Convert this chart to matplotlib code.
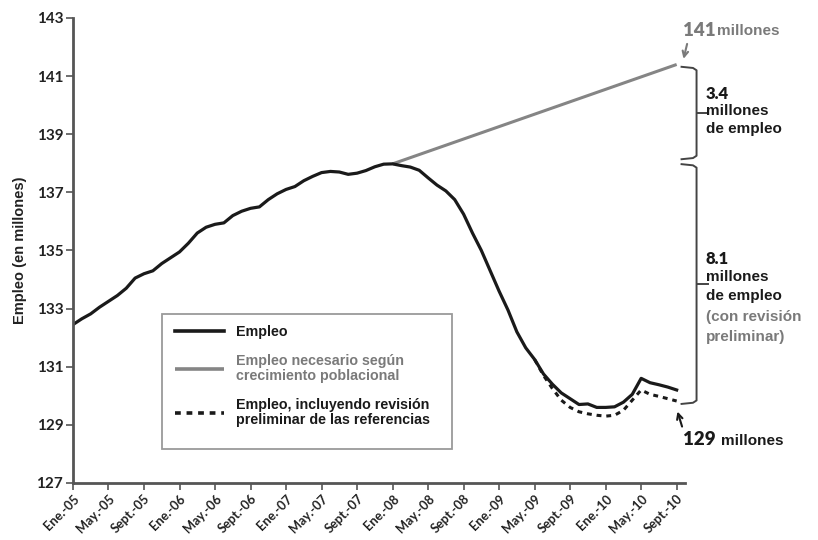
import numpy as np
import matplotlib.pyplot as plt
from matplotlib.patches import Rectangle
from matplotlib.transforms import ScaledTranslation

# monthly payroll employment, Jan-2005 .. Sept-2010 (millions)
empleo = [132.45, 132.65, 132.82, 133.05, 133.25, 133.45, 133.7, 134.05, 134.2, 134.3,
          134.55, 134.75, 134.95, 135.25, 135.6, 135.8, 135.9, 135.95, 136.2, 136.35,
          136.45, 136.5, 136.75, 136.95, 137.1, 137.2, 137.4, 137.55, 137.68, 137.72,
          137.7, 137.62, 137.66, 137.75, 137.88, 137.97, 137.98, 137.92, 137.87, 137.76,
          137.5, 137.25, 137.05, 136.75, 136.25, 135.6, 135.0, 134.3, 133.6, 132.95,
          132.2, 131.65, 131.25, 130.75, 130.4, 130.1, 129.9, 129.7, 129.72, 129.6,
          129.6, 129.62, 129.78, 130.05, 130.6, 130.45, 130.38, 130.3, 130.2]
# with preliminary benchmark revision, May-2009 .. Sept-2010
revision_start = 52
empleo_revisado = [131.25, 130.7, 130.25, 129.85, 129.6, 129.45, 129.38, 129.33, 129.3,
                   129.33, 129.5, 129.85, 130.2, 130.05, 129.98, 129.9, 129.82]
# needed employment given population growth: Ene-08 -> Sept-10
necesario_x = [36, 68]
necesario = [137.98, 141.4]

tick_pos = list(range(0, 69, 4))
tick_labels = ['Ene.-05', 'May.-05', 'Sept.-05', 'Ene.-06', 'May.-06', 'Sept.-06',
               'Ene.-07', 'May.-07', 'Sept.-07', 'Ene.-08', 'May.-08', 'Sept.-08',
               'Ene.-09', 'May.-09', 'Sept.-09', 'Ene.-10', 'May.-10', 'Sept.-10']
y_ticks = [127, 129, 131, 133, 135, 137, 139, 141, 143]

BLACK = '#1a1a1a'
GRAY = '#858585'
TXT_GRAY = '#7a7a7a'
AX = '#555555'
num_font = 'Lato'
txt_font = 'Liberation Sans'

fig = plt.figure(figsize=(8.18, 5.4), dpi=100)
ax = fig.add_axes([0.0892, 0.1056, 0.748, 0.8611])

months = np.arange(len(empleo))
rev_x = np.arange(revision_start, revision_start + len(empleo_revisado))

l2, = ax.plot(necesario_x, necesario, color=GRAY, lw=2.2, solid_capstyle='butt')
l3, = ax.plot(rev_x, empleo_revisado, color=BLACK, lw=2.2, linestyle=(0, (1.6, 1.6)))
l1, = ax.plot(months, empleo, color=BLACK, lw=2.3)

ax.set_xlim(0, 68.92)
ax.set_ylim(127, 143)
ax.set_xticks(tick_pos)
ax.set_xticklabels(tick_labels, rotation=45, ha='right', va='top', rotation_mode='anchor',
                   fontfamily=num_font, fontweight='bold', fontsize=9.2, color='#222222')
shift = ScaledTranslation(6 / 72, 0, fig.dpi_scale_trans)
for lbl in ax.get_xticklabels():
    lbl.set_transform(lbl.get_transform() + shift)
ax.set_yticks(y_ticks)
ax.set_yticklabels([str(v) for v in y_ticks], fontfamily=num_font, fontweight='bold',
                   fontsize=11, color='#222222')
ax.tick_params(axis='both', direction='out', length=5, width=1.2, color=AX)
ax.tick_params(axis='x', pad=2)
ax.tick_params(axis='y', pad=2)
for s in ['top', 'right']:
    ax.spines[s].set_visible(False)
for s in ['left', 'bottom']:
    ax.spines[s].set_color(AX)
    ax.spines[s].set_linewidth(2)
ax.set_ylabel('Empleo (en millones)', fontfamily=txt_font, fontweight='bold', fontsize=10.5,
              color='#222222', labelpad=7)

# legend box
ax.add_patch(Rectangle((0.1977, 0.1685), 0.3545, 0.25, transform=fig.transFigure,
                       facecolor='white', edgecolor='#9a9a9a', lw=1.3, zorder=3,
                       clip_on=False))
leg = ax.legend([l1, l2, l3],
                ['Empleo', 'Empleo necesario según\ncrecimiento poblacional',
                 'Empleo, incluyendo revisión\npreliminar de las referencias'],
                loc='upper left', bbox_to_anchor=(0.2139, 0.399), bbox_transform=fig.transFigure,
                frameon=False, borderpad=0, borderaxespad=0, handlelength=3.4,
                handletextpad=0.9, labelspacing=1.08,
                prop={'family': txt_font, 'weight': 'bold', 'size': 10.3})
leg.set_zorder(5)
for t, c in zip(leg.get_texts(), [BLACK, TXT_GRAY, BLACK]):
    t.set_color(c)
    t.set_linespacing(1.05)
for h in leg.get_lines():
    h.set_linewidth(2.6)


# braces on the right
def brace(y_top, y_bot):
    xv, xl, xr = 70.24, 68.55, 71.5
    ax.plot([xl, xv - 0.4, xv, xv, xv - 0.4, xl],
            [y_top, y_top - 0.04, y_top - 0.12, y_bot + 0.12, y_bot + 0.04, y_bot],
            color='#444444', lw=1.4, clip_on=False)
    ym = (y_top + y_bot) / 2
    ax.plot([xv, xr], [ym, ym], color='#444444', lw=1.4, clip_on=False)


brace(141.32, 138.14)
brace(137.97, 129.72)

tk = dict(fontfamily=txt_font, fontweight='bold', fontsize=11, ha='left', va='center',
          clip_on=False)
big = dict(fontfamily=num_font, fontweight='heavy', fontsize=12, ha='left', va='center',
           clip_on=False)
ax.text(71.3, 140.38, '3.4', color=BLACK, **big)
ax.text(71.3, 139.8, 'millones', color=BLACK, **tk)
ax.text(71.3, 139.18, 'de empleo', color=BLACK, **tk)
ax.text(71.3, 134.7, '8.1', color=BLACK, **big)
ax.text(71.3, 134.1, 'millones', color=BLACK, **tk)
ax.text(71.3, 133.45, 'de empleo', color=BLACK, **tk)
ax.text(71.3, 132.71, '(con revisión', color=TXT_GRAY, **tk)
ax.text(71.3, 132.02, 'preliminar)', color=TXT_GRAY, **tk)

# end-point callouts
ax.text(68.7, 142.58, '141', color=TXT_GRAY, fontfamily=num_font, fontweight='heavy',
        fontsize=13.5, ha='left', va='center', clip_on=False)
ax.text(72.55, 142.56, 'millones', color=TXT_GRAY, **tk)
ax.annotate('', xy=(68.7, 141.5), xytext=(69.25, 142.2),
            arrowprops=dict(arrowstyle='->', color=TXT_GRAY, lw=1.5), annotation_clip=False)
ax.text(68.7, 128.48, '129', color=BLACK, fontfamily=num_font, fontweight='heavy',
        fontsize=13.5, ha='left', va='center', clip_on=False)
ax.text(72.95, 128.46, 'millones', color=BLACK, **tk)
ax.annotate('', xy=(68.0, 129.55), xytext=(68.7, 128.85),
            arrowprops=dict(arrowstyle='->', color=BLACK, lw=1.5), annotation_clip=False)

fig.savefig('out.png', dpi=100)
